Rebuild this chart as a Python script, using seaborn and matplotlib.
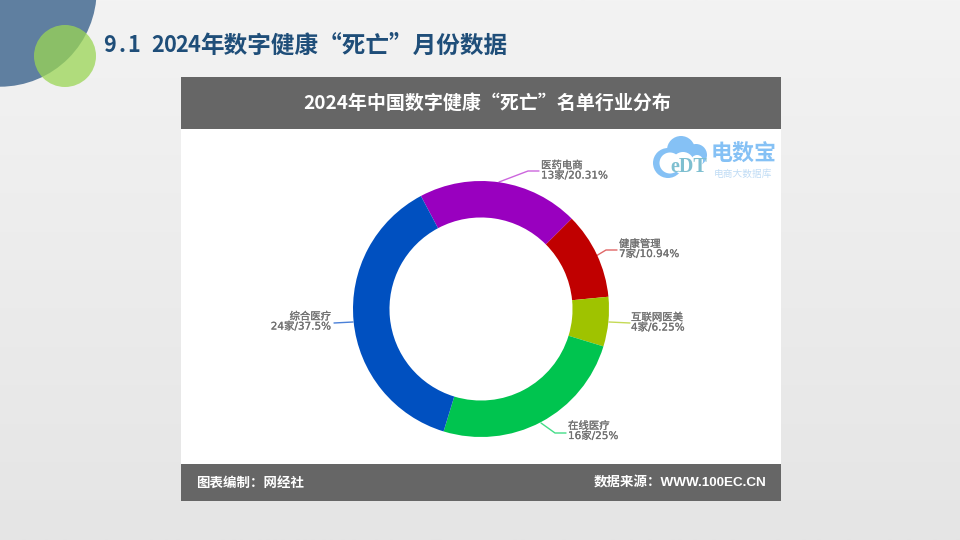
import numpy as np
import seaborn as sns
import matplotlib.pyplot as plt
import matplotlib.patheffects as pe
from matplotlib.patches import Circle, Rectangle

categories = ['医药电商', '健康管理', '互联网医美', '在线医疗', '综合医疗']
counts = [13, 7, 4, 16, 24]
shares = ['20.31%', '10.94%', '6.25%', '25%', '37.5%']
colors = ['#9900bf', '#c00000', '#9fc300', '#00c44f', '#0050c0']
line_colors = ['#cc66dd', '#e06666', '#c5da55', '#44dd88', '#4a80d8']

sns.set_theme(style='white')
plt.rcParams['font.family'] = ['Noto Sans CJK SC', 'DejaVu Sans']
latin_first = ['DejaVu Sans', 'Noto Sans CJK SC']

fig = plt.figure(figsize=(9.6, 5.4), dpi=100)

# page in pixel coords
bg = fig.add_axes([0, 0, 1, 1])
grad = np.linspace(0, 1, 256).reshape(-1, 1)
bg.imshow(grad, extent=[0, 960, 540, 0], aspect='auto',
          cmap=sns.blend_palette(['#f3f3f3', '#e5e5e5'], as_cmap=True), vmin=0, vmax=1)
bg.set_xlim(0, 960)
bg.set_ylim(540, 0)
bg.axis('off')

bg.add_patch(Circle((0, -10), 96.7, color='#5f7fa0', zorder=2, lw=0))
bg.add_patch(Circle((65, 56), 31, color='#9bd655', alpha=0.75, zorder=3, lw=0))
title_color = '#1f4e79'
# digits sit in 12px cells in the original
for i, ch in enumerate('9.1 2024'):
    bg.text(104 + i * 12 + 6, 46, ch, fontsize=15.6, fontweight='bold',
            color=title_color, va='center', ha='center', zorder=4)
bg.text(200, 45.5, '年数字健康“死亡”月份数据', fontsize=17, fontweight='bold',
        color=title_color, va='center', ha='left', zorder=4)

bg.add_patch(Rectangle((181, 77), 600, 424, color='white', lw=0, zorder=2))
bg.add_patch(Rectangle((181, 77), 600, 52, color='#666666', lw=0, zorder=3))
bg.add_patch(Rectangle((181, 464), 600, 37, color='#666666', lw=0, zorder=3))
bg.text(487, 103.5, '2024年中国数字健康“死亡”名单行业分布', fontsize=13.7, fontweight='bold',
        color='white', ha='center', va='center', zorder=4)
bg.text(196, 482.5, '图表编制：网经社', fontsize=9.7, fontweight='bold', color='white', va='center', zorder=4)
bg.text(766, 482.5, '数据来源：WWW.100EC.CN', fontsize=9.7, fontweight='bold',
        family=['Liberation Sans', 'Noto Sans CJK SC'],
        color='white', ha='right', va='center', zorder=4)

# logo
logo_blue = '#85c1f5'
for cx, cy, r in [(668, 163, 15), (681, 150, 14), (696, 155, 11)]:
    bg.add_patch(Circle((cx, cy), r, color=logo_blue, lw=0, zorder=3))
for cx, cy, r in [(670, 163, 10.5), (683, 163, 11), (697, 161, 6)]:
    bg.add_patch(Circle((cx, cy), r, color='white', lw=0, zorder=3))
bg.add_patch(Rectangle((680, 165), 30, 14, color='white', lw=0, zorder=3))
bg.text(689, 167, 'eDT', fontsize=14.5, color='#7ebfd0', ha='center', va='center', zorder=4,
        family='Liberation Serif', fontweight='bold')
bg.text(744, 154, '电数宝', fontsize=15.8, color=logo_blue, ha='center', va='center',
        fontweight='bold', zorder=4)
bg.text(743, 174, '电商大数据库', fontsize=7, color='#c0dcf5', ha='center', va='center', zorder=4)

# donut, centre (481, 309), radius 128 px
ax = fig.add_axes([(481 - 128) / 960, (540 - 309 - 128) / 540, 256 / 960, 256 / 540])
ax.set_facecolor('none')
ax.pie(counts, colors=colors, startangle=118, counterclock=False, radius=1,
       wedgeprops={'width': 0.285, 'linewidth': 0})
ax.set_xlim(-1, 1)
ax.set_ylim(-1, 1)

# leader lines + labels
line_paths = [[(499, 182), (528, 171), (539, 171)],
              [(596, 256), (606, 250), (617, 250)],
              [(609, 322), (630, 323)],
              [(541, 423), (555, 433), (566, 433)],
              [(353, 322), (334, 323)]]
label_pos = [(541, 170.5, 'left'), (619, 249, 'left'), (631, 322.5, 'left'), (568, 431, 'left'), (331, 321.5, 'right')]
thicker = [pe.withStroke(linewidth=0.15, foreground='#707070')]
for name, n, share, lc, path, (x, y, ha) in zip(categories, counts, shares, line_colors, line_paths, label_pos):
    xs, ys = zip(*path)
    bg.plot(xs, ys, color=lc, lw=1, zorder=5)
    bg.text(x, y - 5, name, fontsize=7.5, color='#707070', ha=ha, va='center', zorder=5, path_effects=thicker)
    bg.text(x, y + 5, f'{n}家/{share}', fontsize=7.5, family=latin_first,
            color='#707070', ha=ha, va='center', zorder=5, path_effects=thicker)

fig.savefig('out.png', dpi=100)
